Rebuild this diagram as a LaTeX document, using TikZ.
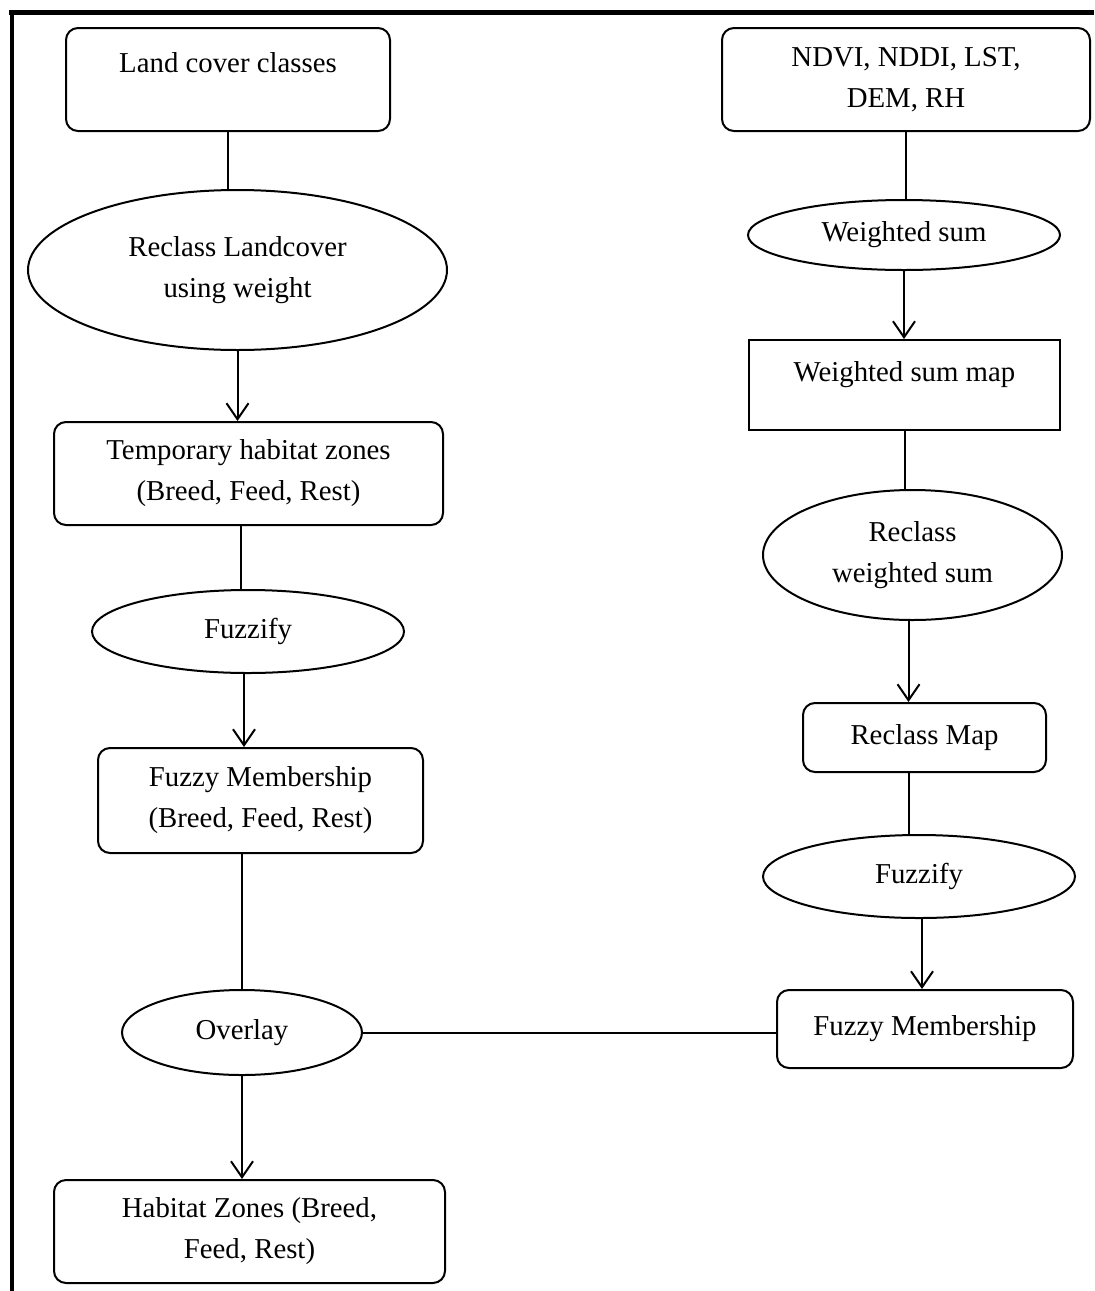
\documentclass[tikz,border=0pt]{standalone}
\usepackage{fontspec}
\setmainfont{Liberation Serif}
\usetikzlibrary{shapes.geometric,arrows.meta}

\begin{document}
\begin{tikzpicture}[%
      x=0.5pt, y=-0.5pt,
      every node/.style={font=\fontsize{14.4pt}{20.5pt}\selectfont, align=center, inner sep=2pt},
      rbox/.style={draw, line width=1pt, rounded corners=6pt},
      sbox/.style={draw, line width=1pt},
      oval/.style={draw, line width=1pt, ellipse},
      raised/.style={text height=10pt, text depth=#1},
      link/.style={line width=1pt},
      flow/.style={line width=1pt, -{Straight Barb[length=8pt, width=11pt, line width=1pt]}},
      ]
      \useasboundingbox (0,0) rectangle (1094,1291);
      \draw [line width=2.5pt] (9,12.5) -- (1094,12.5);
      \draw [line width=2pt] (12,10) -- (12,1291);

      % left column
      \node [rbox, raised=17.5pt, minimum width=162pt, minimum height=51.5pt] (lcc) at (228,79.5) {Land cover classes};
      \node [oval, minimum width=209.5pt, minimum height=80pt] (rlu) at (237.5,270) {Reclass Landcover\\using weight};
      \node [rbox, minimum width=194.5pt, minimum height=51.5pt] (thz) at (248.5,473.5) {Temporary habitat zones\\(Breed, Feed, Rest)};
      \node [oval, minimum width=156pt, minimum height=41.5pt] (fzl) at (248,631.5) {Fuzzify};
      \node [rbox, minimum width=162.5pt, minimum height=52.5pt] (fml) at (260.5,800.5) {Fuzzy Membership\\(Breed, Feed, Rest)};
      \node [oval, minimum width=120pt, minimum height=42.5pt] (ovl) at (242,1032.5) {Overlay};
      \node [rbox, minimum width=195.5pt, minimum height=51.5pt] (hz) at (249.5,1231.5) {Habitat Zones (Breed,\\Feed, Rest)};

      % right column
      \node [rbox, minimum width=184pt, minimum height=51.5pt] (idx) at (906,79.5) {NDVI, NDDI, LST,\\DEM, RH};
      \node [oval, minimum width=156pt, minimum height=35pt] (ws) at (904,235) {Weighted sum};
      \node [sbox, raised=14pt, minimum width=155.5pt, minimum height=45pt] (wsm) at (904.5,385) {Weighted sum map};
      \node [oval, minimum width=149.5pt, minimum height=65pt] (rws) at (912.5,555) {Reclass\\weighted sum};
      \node [rbox, minimum width=121.5pt, minimum height=34.5pt] (rm) at (924.5,737.5) {Reclass Map};
      \node [oval, minimum width=156pt, minimum height=41.5pt] (fzr) at (919,876.5) {Fuzzify};
      \node [rbox, minimum width=148pt, minimum height=39pt] (fmr) at (925,1029) {Fuzzy Membership};

      \draw [link] (lcc.south) -- (lcc.south |- rlu.north);
      \draw [flow] (rlu.south) -- (rlu.south |- thz.north);
      \draw [link] ([xshift=-4pt]thz.south) -- ([xshift=-4pt]thz.south |- fzl.north);
      \draw [flow] ([xshift=-2pt]fzl.south) -- ([xshift=-2pt]fzl.south |- fml.north);
      \draw [link] (fml.south -| ovl.north) -- (ovl.north);
      \draw [flow] (ovl.south) -- (ovl.south |- hz.north);
      \draw [link] (ovl.east) -- (ovl.east -| fmr.west);

      \draw [link] (idx.south) -- (idx.south |- ws.north);
      \draw [flow] (ws.south) -- (ws.south |- wsm.north);
      \draw [link] (wsm.south) -- (wsm.south |- rws.north);
      \draw [flow] ([xshift=-2pt]rws.south) -- ([xshift=-2pt]rws.south |- rm.north);
      \draw [link] ([xshift=-2pt]rws.south |- rm.south) -- ([xshift=-2pt]rws.south |- fzr.north);
      \draw [flow] ([xshift=1.5pt]fzr.south) -- ([xshift=1.5pt]fzr.south |- fmr.north);
\end{tikzpicture}
\end{document}
